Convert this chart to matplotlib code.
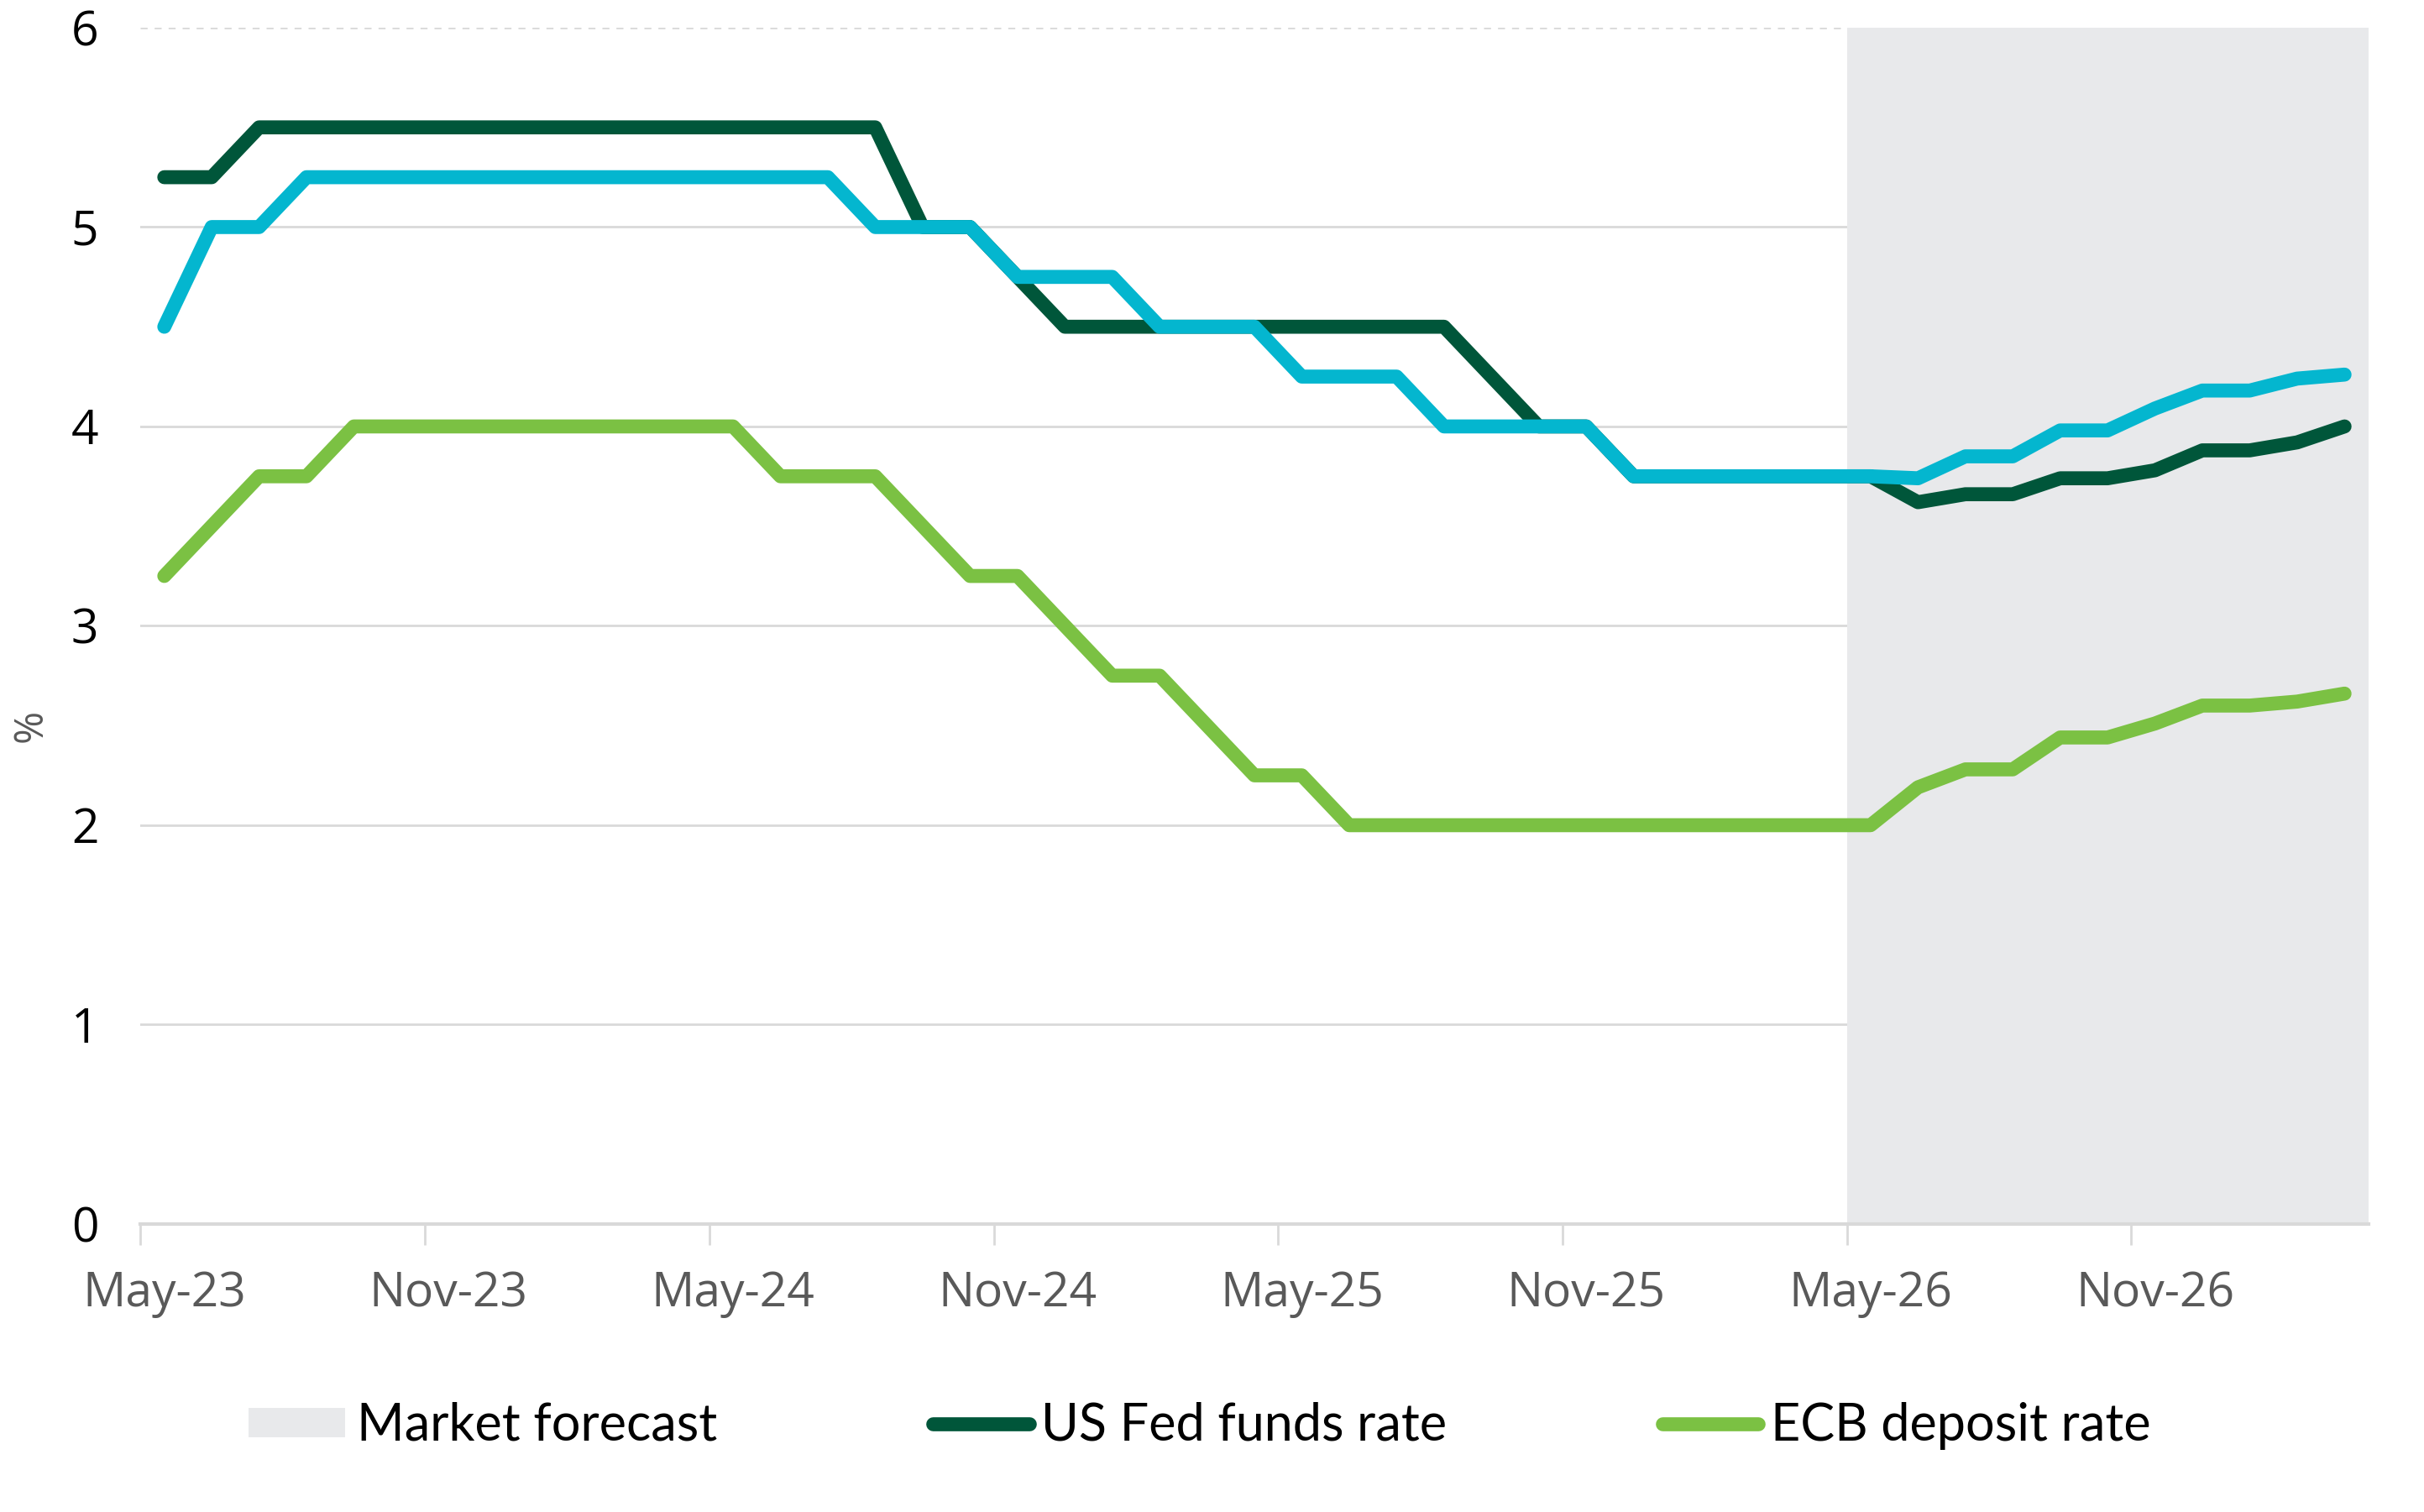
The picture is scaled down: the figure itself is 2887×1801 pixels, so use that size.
import numpy as np
import pandas as pd
import matplotlib
matplotlib.use("Agg")
import matplotlib.pyplot as plt
from matplotlib.lines import Line2D
from matplotlib.patches import Patch

plt.rcParams['font.family'] = ['Open Sans', 'DejaVu Sans']

# monthly, May-23 .. Mar-27
months = pd.date_range('2023-05-01', periods=47, freq='MS').strftime('%b-%y').tolist()

fed = [5.25, 5.25] + [5.5] * 14 + [5.0, 5.0, 4.75] + [4.5] * 9 + [4.25, 4.0, 4.0] + [3.75] * 6 \
    + [3.62, 3.66, 3.66, 3.74, 3.74, 3.78, 3.88, 3.88, 3.92, 4.0]
boe = [4.5, 5.0, 5.0] + [5.25] * 12 + [5.0] * 3 + [4.75] * 3 + [4.5] * 3 + [4.25] * 3 + [4.0] * 4 + [3.75] * 6 \
    + [3.74, 3.85, 3.85, 3.98, 3.98, 4.09, 4.18, 4.18, 4.24, 4.26]
ecb = [3.25, 3.5, 3.75, 3.75] + [4.0] * 9 + [3.75] * 3 + [3.5, 3.25, 3.25, 3.0, 2.75, 2.75, 2.5, 2.25, 2.25] \
    + [2.0] * 12 + [2.19, 2.28, 2.28, 2.44, 2.44, 2.51, 2.6, 2.6, 2.62, 2.66]

forecast_start = 'May-26'
yticks = [0, 1, 2, 3, 4, 5, 6]

c_fed = '#00563a'
c_boe = '#04b6cf'
c_ecb = '#7bc143'
c_shade = '#e8e9eb'
c_grid = '#d9d9d9'
LW = 12

x = np.arange(len(months))

fig = plt.figure(figsize=(28.87, 18.01), dpi=100)
ax = fig.add_axes([0.058, 0.1905, 0.919, 0.7912])

# grid
for v in yticks[1:-1]:
    ax.axhline(v, color=c_grid, lw=2, zorder=0)
ax.axhline(yticks[-1], color=c_grid, lw=2, ls=(0, (3, 3)), zorder=0)

fs = months.index(forecast_start) - 0.5
ax.axvspan(fs, len(months) - 0.5, color=c_shade, lw=0, zorder=1)

kw = dict(lw=LW, solid_capstyle='round', solid_joinstyle='round', zorder=3)
ax.plot(x, fed, color=c_fed, **kw)
ax.plot(x, boe, color=c_boe, **kw)
ax.plot(x, ecb, color=c_ecb, **kw)

ax.set_xlim(-0.5, len(months) - 0.5)
ax.set_ylim(0, 6)

for s in ['top', 'right', 'left']:
    ax.spines[s].set_visible(False)
ax.spines['bottom'].set_color(c_grid)
ax.spines['bottom'].set_linewidth(3)
ax.spines['bottom'].set_zorder(4)

ax.set_yticks(yticks)
ax.tick_params(axis='y', length=0, pad=36, labelsize=41, labelcolor='black')

ax.set_xticks(np.arange(-0.5, len(months) - 1, 6))
ax.set_xticklabels([])
ax.set_xticks(np.arange(0, len(months), 6), minor=True)
ax.set_xticklabels(months[::6], minor=True)
ax.tick_params(axis='x', which='major', length=18, width=2, color=c_grid, direction='out')
ax.tick_params(axis='x', which='minor', length=0, pad=40, labelsize=41, labelcolor='#595959')

fig.text(0.0128, 0.52, '%', rotation=90, fontsize=34, color='#595959', ha='center', va='center')

handles = [Patch(facecolor=c_shade, edgecolor='none'),
           Line2D([], [], color=c_fed, lw=LW, solid_capstyle='round'),
           Line2D([], [], color=c_ecb, lw=LW, solid_capstyle='round')]
labels = ['Market forecast', 'US Fed funds rate', 'ECB deposit rate']
fig.legend(handles, labels, loc='center', bbox_to_anchor=(0.495, 0.057), ncol=3, frameon=False,
           prop={'family': ['Lato', 'DejaVu Sans'], 'size': 44},
           handlelength=1.87, handleheight=0.5, handletextpad=0.24, columnspacing=4.2)

fig.savefig('out.png', dpi=100)
